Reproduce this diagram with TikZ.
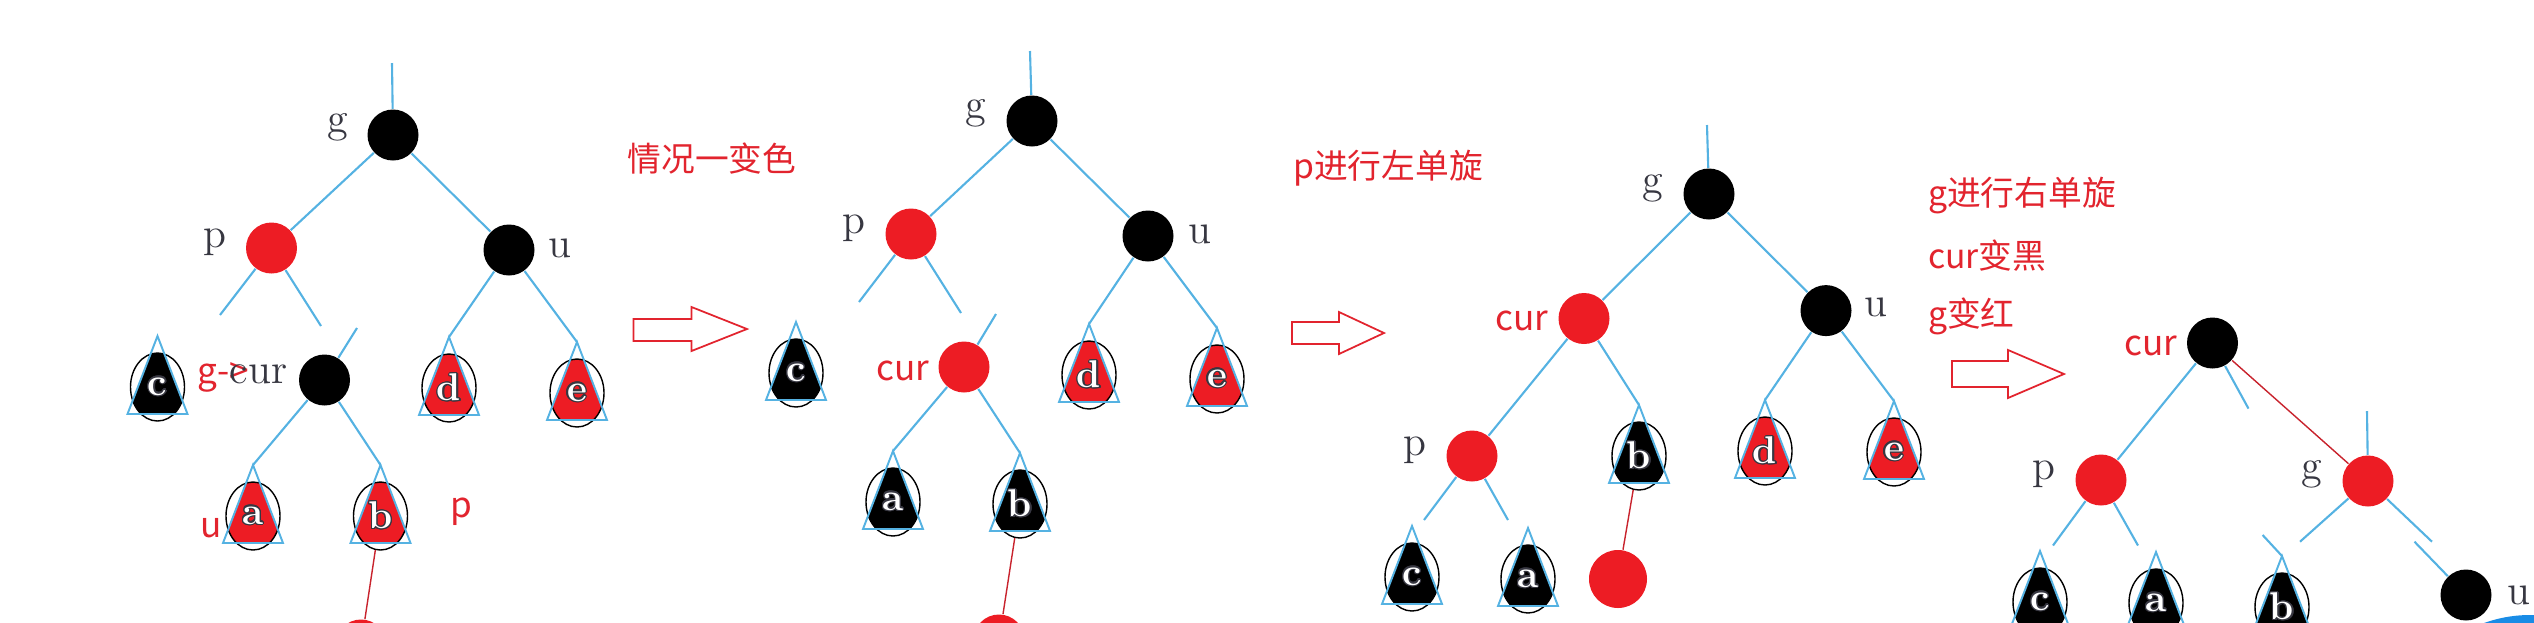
\documentclass[tikz,border=0pt]{standalone}
\usepackage{fontspec}
\newfontfamily\cjk{Noto Sans CJK SC}
\usepackage{contour}
\contourlength{0.35pt}
\usepackage{tikz}
\usetikzlibrary{calc,shapes.geometric}
\definecolor{nodeRed}{RGB}{237,28,36}
\definecolor{edgeBlue}{RGB}{85,178,226}
\definecolor{noteRed}{RGB}{226,36,46}
\definecolor{labGray}{RGB}{55,55,65}
\definecolor{linkRed}{RGB}{200,35,45}
\definecolor{blobBlue}{RGB}{25,140,230}
% subtree: ellipse node with a filled triangle, apex coordinate is <name>t
\newcommand{\subtree}[4]{%
  \node[subtree, path picture={\fill[#3] ($(path picture bounding box.center)+(0,-51)$) -- ++(-30,78) -- ++(60,0) -- cycle;}] (#1) at (#2) {\contour{labGray}{\textcolor{white}{#4}}};
  \draw[tri] ($(#1)+(0,-51)$) coordinate (#1t) -- ++(-30,78) -- ++(60,0) -- cycle;
}

\begin{document}
\begin{tikzpicture}[x=0.1mm, y=-0.1mm,
    dot/.style={circle, inner sep=0pt, minimum size=5.1mm},
    blk/.style={dot, fill=black},
    rd/.style={dot, fill=nodeRed},
    edge/.style={edgeBlue, line width=0.6pt},
    tri/.style={edgeBlue, line width=0.55pt, line join=miter},
    link/.style={linkRed, line width=0.4pt},
    subtree/.style={ellipse, draw=black, line width=0.4pt, inner sep=0pt,
      minimum width=5.4mm, minimum height=6.8mm,
      font=\fontsize{11}{11}\selectfont\bfseries},
    tag/.style={labGray, inner sep=0pt, font=\fontsize{12}{12}\selectfont},
    rtag/.style={noteRed, inner sep=0pt, font=\cjk\fontsize{10}{10}\selectfont},
    note/.style={noteRed, inner sep=0pt, font=\cjk\fontsize{9.6}{11}\selectfont},
    hollow/.style={noteRed, line width=0.5pt, line join=miter}]
  \useasboundingbox (0,0) rectangle (2534,622);
  \clip (0,0) rectangle (2534,622);

  % ---- panel 1: g-cur
  \node[blk] (g1) at (393,135) {};
  \node[rd] (p1) at (271.5,248) {};
  \node[blk] (u1) at (509,250) {};
  \node[blk] (cur1) at (324.5,380) {};
  \subtree{c1}{157.5,387}{black}{c}
  \subtree{d1}{449,388}{nodeRed}{d}
  \subtree{e1}{577,393}{nodeRed}{e}
  \subtree{a1}{253,516}{nodeRed}{a}
  \subtree{b1}{380.5,516}{nodeRed}{b}
  \node[rd] (x1) at (361,645) {};
  \coordinate (g1in) at (392,63);
  \coordinate (p1l) at (220,315);
  \coordinate (p1r) at (321,326);
  \coordinate (cur1in) at (357,328);
  \draw[edge] (g1in) -- (g1);
  \draw[edge] (g1) -- (p1);
  \draw[edge] (g1) -- (u1);
  \draw[edge] (p1) -- (p1l);
  \draw[edge] (p1) -- (p1r);
  \draw[edge] (cur1in) -- (cur1);
  \draw[edge] (u1) -- (d1t);
  \draw[edge] (u1) -- (e1t);
  \draw[edge] (cur1) -- (a1t);
  \draw[edge] (cur1) -- (b1t);
  \draw[link] (b1) -- (x1);
  \node[tag] (g1lab) at (338,127) {g};
  \node[tag] (p1lab) at (215,242) {p};
  \node[tag] (u1lab) at (560,248) {u};
  \node[inner sep=0pt] (cur1lab) at (242.5,377)
    {\textcolor{noteRed}{\cjk\fontsize{10}{10}\selectfont g-\rlap{>}}\textcolor{labGray}{\fontsize{12}{12}\selectfont cur}};
  \node[rtag] (a1lab) at (211,528) {u};
  \node[rtag] (b1lab) at (461,512) {p};

  % ---- arrow 1 and note
  \draw[hollow] (633.5,319) -- (691.5,319) -- (691.5,307) -- (747,329)
    -- (691.5,351) -- (691.5,341) -- (633.5,341) -- cycle;
  \node[note] (note1) at (712,159) {情况一变色};

  % ---- panel 2: recolour
  \node[blk] (g2) at (1032,121) {};
  \node[rd] (p2) at (911,234) {};
  \node[blk] (u2) at (1148,236) {};
  \node[rd] (cur2) at (964,367) {};
  \subtree{c2}{796,373}{black}{c}
  \subtree{d2}{1089,375}{nodeRed}{d}
  \subtree{e2}{1217,379}{nodeRed}{e}
  \subtree{a2}{893,502}{black}{a}
  \subtree{b2}{1020,504}{black}{b}
  \node[rd] (x2) at (999,640) {};
  \coordinate (g2in) at (1030,51);
  \coordinate (p2l) at (859,302);
  \coordinate (p2r) at (961,313);
  \coordinate (cur2in) at (996,314);
  \draw[edge] (g2in) -- (g2);
  \draw[edge] (g2) -- (p2);
  \draw[edge] (g2) -- (u2);
  \draw[edge] (p2) -- (p2l);
  \draw[edge] (p2) -- (p2r);
  \draw[edge] (cur2in) -- (cur2);
  \draw[edge] (u2) -- (d2t);
  \draw[edge] (u2) -- (e2t);
  \draw[edge] (cur2) -- (a2t);
  \draw[edge] (cur2) -- (b2t);
  \draw[link] (b2) -- (x2);
  \node[tag] (g2lab) at (976,113) {g};
  \node[tag] (p2lab) at (853.5,228) {p};
  \node[tag] (u2lab) at (1199.5,234) {u};
  \node[rtag] (cur2lab) at (903,371) {cur};

  % ---- arrow 2 and note
  \draw[hollow] (1292,322) -- (1339,322) -- (1339,312) -- (1384,333)
    -- (1339,354) -- (1339,344) -- (1292,344) -- cycle;
  \node[note] (note2) at (1388,168) {p进行左单旋};

  % ---- panel 3: left rotation at p
  \node[blk] (g3) at (1709,194) {};
  \node[rd] (cur3) at (1584,318.5) {};
  \node[blk] (u3) at (1826,310.6) {};
  \node[rd] (p3) at (1472,456) {};
  \subtree{b3}{1639,456}{black}{b}
  \subtree{d3}{1765,451}{nodeRed}{d}
  \subtree{e3}{1894,452}{nodeRed}{e}
  \subtree{c3}{1412,577}{black}{c}
  \subtree{a3}{1528,579}{black}{a}
  \node[rd, minimum size=5.8mm] (x3) at (1618,579) {};
  \coordinate (g3in) at (1707,125);
  \coordinate (p3l) at (1424,520);
  \coordinate (p3r) at (1508,520);
  \draw[edge] (g3in) -- (g3);
  \draw[edge] (g3) -- (cur3);
  \draw[edge] (g3) -- (u3);
  \draw[edge] (cur3) -- (p3);
  \draw[edge] (cur3) -- (b3t);
  \draw[edge] (u3) -- (d3t);
  \draw[edge] (u3) -- (e3t);
  \draw[edge] (p3) -- (p3l);
  \draw[edge] (p3) -- (p3r);
  \draw[link] (b3) -- (x3);
  \node[tag] (g3lab) at (1653,188) {g};
  \node[rtag] (cur3lab) at (1522,321) {cur};
  \node[tag] (u3lab) at (1876,307) {u};
  \node[tag] (p3lab) at (1415,450) {p};

  % ---- arrow 3 and notes
  \draw[hollow] (1952,361) -- (2008,361) -- (2008,350) -- (2064,374)
    -- (2008,398) -- (2008,387) -- (1952,387) -- cycle;
  \node[note, anchor=west] (note3a) at (1927.5,196) {g进行右单旋};
  \node[note, anchor=west] (note3b) at (1927.5,256) {cur变黑};
  \node[note, anchor=west] (note3c) at (1927.5,316) {g变红};

  % ---- panel 4: right rotation at g
  \node[blk] (cur4) at (2212.5,343) {};
  \node[rd] (p4) at (2101,480) {};
  \node[rd] (g4) at (2368,481) {};
  \node[blk] (u4) at (2466,595) {};
  \subtree{c4}{2040,602}{black}{c}
  \subtree{a4}{2156,603}{black}{a}
  \subtree{b4}{2282,607}{black}{b}
  \coordinate (g4in) at (2367,411);
  \coordinate (cur4r) at (2248.5,408.6);
  \coordinate (p4l) at (2053,545.5);
  \coordinate (p4r) at (2138,545.5);
  \coordinate (b4in) at (2262.6,535);
  \coordinate (g4l) at (2300,541.7);
  \coordinate (g4r) at (2432,541.7);
  \coordinate (u4in) at (2414.5,541.7);
  \draw[edge] (cur4) -- (p4);
  \draw[edge] (cur4) -- (cur4r);
  \draw[edge] (g4in) -- (g4);
  \draw[edge] (p4) -- (p4l);
  \draw[edge] (p4) -- (p4r);
  \draw[edge] (b4in) -- (b4t);
  \draw[edge] (g4) -- (g4l);
  \draw[edge] (g4) -- (g4r);
  \draw[edge] (u4in) -- (u4);
  \draw[link] (cur4) -- (g4);
  \node[rtag] (cur4lab) at (2150.7,346) {cur};
  \node[tag] (p4lab) at (2044,474) {p};
  \node[tag] (g4lab) at (2312,474) {g};
  \node[tag] (u4lab) at (2519,595) {u};
  \fill[blobBlue] (2530,750) circle [radius=13.5mm];
\end{tikzpicture}
\end{document}
